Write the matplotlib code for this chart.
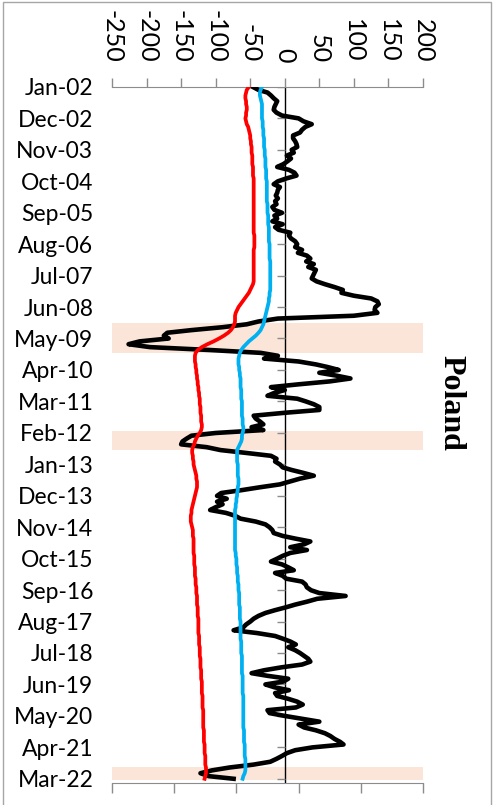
import numpy as np
import pandas as pd
import matplotlib
matplotlib.use("Agg")
import matplotlib.pyplot as plt
import matplotlib.dates as mdates
from matplotlib.markers import TICKLEFT
from matplotlib.patches import Rectangle

plt.rcParams["font.family"] = ["Lato", "DejaVu Sans"]

# monthly series, Jan-2002 onwards
start = "2002-01-01"

gap = [
    -46, -38, -25, -20, -16, -11, -13, -15, -16, -12,
    -4, 20, 27, 39, 30, 25, 22, 12, 12, 15,
    17, 18, 10, 13, 3, 9, 4, -2, -11, 6,
    14, 17, 2, -10, -16, -7, -10, -11, -13, -10,
    -14, -12, -18, -15, -4, -15, -11, -18, -3, -14,
    -9, 8, 6, 9, 15, 18, 15, 25, 19, 32,
    37, 31, 42, 34, 45, 43, 41, 39, 46, 58,
    72, 84, 82, 100, 125, 134, 136, 131, 130, 134,
    100, -10, -38, -55, -90, -135, -170, -175, -168, -210,
    -226, -195, -108, -35, -10, -30, 20, 45, 62, 78,
    50, 75, 95, 65, 20, -20, 0, -15, -25, 18,
    30, 42, 50, 50, 0, -45, -42, -36, -31, -48,
    -31, -100, -135, -142, -148, -150, -113, -93, -55, -20,
    -12, -14, -7, -3, 10, 27, 42, 22, 8, -7,
    -36, -62, -92, -98, -84, -98, -90, -100, -108, -85,
    -72, -64, -42, -28, -22, -18, -16, -3, 15, 37,
    28, 8, 32, 8, -3, -11, -20, -4, 5, 13,
    -14, -3, 2, 25, 30, 32, 38, 50, 88, 47,
    32, 15, 2, -14, -28, -38, -45, -50, -56, -60,
    -74, -40, -14, -2, 8, 16, 5, 15, 22, 28,
    34, 37, 25, -5, -30, -48, -25, 5, -2, -28,
    -15, 6, -14, -11, 5, 18, 26, 16, -25, -22,
    0, 25, 50, 20, 28, 45, 58, 66, 72, 80,
    85, 40, 15, 3, -4, -12, -21, -45, -80, -105,
    -122, -110, -74,
]

lower = [
    -52, -55, -56, -57, -57, -56, -56, -55, -55, -56,
    -56, -57, -56, -55, -53, -52, -51, -50, -50, -49,
    -49, -48, -48, -48, -47, -47, -47, -47, -46, -46,
    -46, -46, -45, -45, -45, -45, -45, -45, -45, -45,
    -45, -45, -45, -45, -45, -45, -45, -45, -45, -45,
    -45, -45, -44, -44, -44, -44, -44, -45, -45, -45,
    -45, -45, -45, -45, -45, -45, -45, -45, -45, -46,
    -48, -50, -52, -55, -58, -61, -64, -67, -69, -71,
    -72, -72, -72, -73, -75, -78, -82, -88, -95, -103,
    -112, -120, -126, -129, -130, -130, -130, -129, -129, -128,
    -128, -127, -127, -126, -126, -125, -125, -124, -124, -123,
    -123, -123, -122, -122, -122, -121, -121, -121, -120, -120,
    -121, -123, -126, -128, -130, -131, -133, -134, -134, -133,
    -133, -132, -132, -131, -130, -129, -128, -128, -127, -127,
    -127, -128, -129, -130, -131, -132, -133, -134, -135, -135,
    -136, -136, -136, -135, -134, -133, -133, -133, -132, -132,
    -132, -132, -132, -132, -131, -131, -131, -131, -130, -130,
    -130, -130, -129, -129, -129, -128, -128, -128, -127, -127,
    -127, -127, -126, -126, -126, -126, -125, -125, -125, -125,
    -125, -125, -124, -124, -124, -124, -123, -123, -123, -123,
    -122, -122, -122, -122, -121, -121, -121, -121, -120, -120,
    -120, -120, -120, -119, -119, -119, -119, -119, -118, -118,
    -118, -118, -118, -118, -118, -117, -117, -117, -117, -117,
    -116, -116, -116, -116, -115, -115, -115, -115, -114, -114,
    -114, -115, -116,
]

upper = [
    -33, -35, -36, -36, -35, -34, -33, -33, -33, -33,
    -33, -33, -32, -32, -32, -31, -31, -31, -30, -30,
    -30, -30, -29, -29, -29, -28, -28, -28, -28, -27,
    -27, -27, -27, -26, -26, -26, -26, -26, -26, -26,
    -26, -25, -25, -25, -25, -24, -24, -24, -24, -23,
    -23, -23, -23, -23, -23, -22, -22, -22, -22, -22,
    -22, -21, -21, -21, -21, -21, -21, -21, -21, -21,
    -21, -21, -22, -22, -23, -23, -24, -25, -26, -27,
    -28, -29, -30, -31, -33, -35, -38, -42, -47, -52,
    -56, -60, -63, -65, -66, -67, -67, -67, -66, -66,
    -65, -65, -64, -64, -64, -64, -63, -63, -63, -63,
    -62, -62, -62, -62, -62, -62, -61, -61, -61, -60,
    -60, -61, -62, -62, -63, -65, -67, -69, -69, -69,
    -69, -69, -68, -68, -68, -68, -68, -67, -67, -67,
    -68, -68, -69, -69, -70, -70, -71, -71, -72, -72,
    -72, -72, -72, -72, -72, -72, -72, -72, -72, -72,
    -72, -72, -72, -71, -71, -70, -70, -70, -69, -69,
    -69, -68, -68, -68, -67, -67, -67, -66, -66, -66,
    -66, -66, -65, -65, -65, -65, -65, -64, -64, -64,
    -64, -64, -64, -64, -63, -63, -63, -63, -63, -62,
    -62, -62, -62, -62, -62, -62, -61, -61, -61, -61,
    -61, -61, -61, -60, -60, -60, -60, -60, -60, -60,
    -60, -60, -60, -60, -60, -59, -59, -59, -59, -59,
    -58, -58, -58, -58, -58, -57, -57, -57, -57, -57,
    -58, -60, -61,
]

date_labels = [
    "Jan-02", "Dec-02", "Nov-03", "Oct-04", "Sep-05", "Aug-06", "Jul-07",
    "Jun-08", "May-09", "Apr-10", "Mar-11", "Feb-12", "Jan-13", "Dec-13",
    "Nov-14", "Oct-15", "Sep-16", "Aug-17", "Jul-18", "Jun-19", "May-20",
    "Apr-21", "Mar-22",
]
value_ticks = [-250, -200, -150, -100, -50, 0, 50, 100, 150, 200]

# shaded episodes (start, end)
episodes = [
    ("2008-11-15", "2009-10-01"),
    ("2012-01-15", "2012-08-01"),
    ("2021-10-28", "2022-03-15"),
]

GREY = "#8c8c8c"

months = pd.date_range(start, periods=len(gap), freq="MS")
tick_dates = pd.to_datetime(date_labels, format="%b-%y")

fig = plt.figure(figsize=(4.96, 8.05), dpi=100)
ax = fig.add_axes([112 / 496, 1 - 783 / 805, 311 / 496, 696 / 805])

for a, b in episodes:
    ax.axhspan(mdates.date2num(pd.Timestamp(a)), mdates.date2num(pd.Timestamp(b)),
               color="#FAE5D8", lw=0, zorder=0)

ax.axvline(0, color="black", lw=1.0, zorder=1)
ax.plot(np.zeros(len(tick_dates)), tick_dates, ls="none", marker=TICKLEFT,
        ms=6, mew=1.0, color=GREY, zorder=1)

ax.plot(gap, months, color="black", lw=3.3, solid_joinstyle="round", zorder=3)
ax.plot(lower, months, color="#FF0000", lw=2.7, zorder=4)
ax.plot(upper, months, color="#00B0F0", lw=2.7, zorder=4)

ax.set_xlim(value_ticks[0], value_ticks[-1])
ax.set_ylim(mdates.date2num(pd.Timestamp("2022-04-15")),
            mdates.date2num(pd.Timestamp(start)))

# value axis across the top, labels reading downwards
ax.xaxis.tick_top()
ax.set_xticks(value_ticks)
ax.set_xticklabels([str(v) for v in value_ticks], rotation=-90, fontsize=18)
ax.tick_params(axis="x", direction="out", length=6.5, width=1, color=GREY, pad=11)

# dates on the left, no tick marks
ax.set_yticks(tick_dates)
ax.set_yticklabels(date_labels, fontsize=16.5)
ax.tick_params(axis="y", length=0, pad=13.5)

for side in ["left", "right", "bottom"]:
    ax.spines[side].set_visible(False)
ax.spines["top"].set_color(GREY)

# unlabelled secondary axis along the bottom
sec = ax.secondary_xaxis("bottom")
sec.set_xticks(np.linspace(value_ticks[0], value_ticks[-1], 6))
sec.tick_params(direction="out", length=7, width=1, color=GREY, labelbottom=False)
sec.spines["bottom"].set_color(GREY)

fig.text(451 / 496, 1 - 403 / 805, "Poland", rotation=-90, fontsize=23,
         fontweight="bold", family=["Liberation Serif", "DejaVu Serif"],
         ha="center", va="center")

fig.add_artist(Rectangle((3 / 496, -0.01), 488 / 496, 1.01 - 2 / 805,
                         transform=fig.transFigure, fill=False,
                         edgecolor="#a6a6a6", lw=1.0))

fig.savefig("out.png", dpi=100)
